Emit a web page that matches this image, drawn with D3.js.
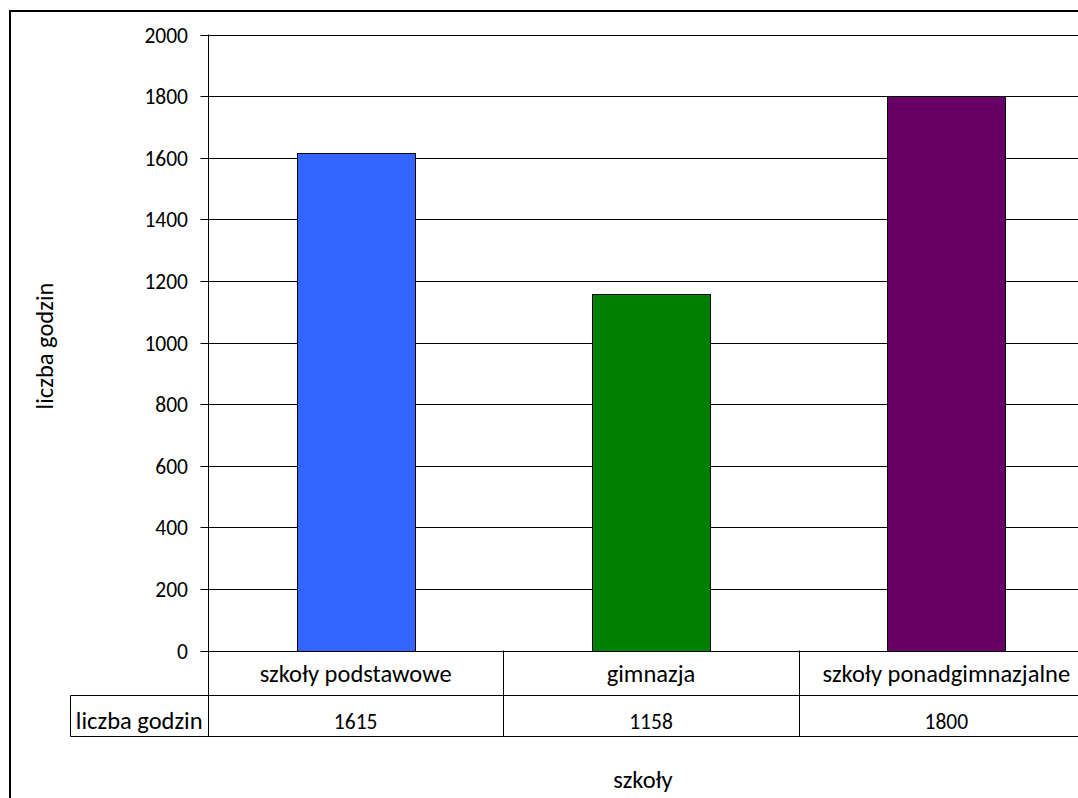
<!DOCTYPE html>
<html><head><meta charset="utf-8">
<script src="https://cdn.jsdelivr.net/npm/d3@7"></script>
<style>body{margin:0;background:#fff}svg{display:block}text{font-family:Carlito,Lato,"Liberation Sans",sans-serif;fill:#000}</style>
</head><body>
<script>
const categories = ["szkoły podstawowe", "gimnazja", "szkoły ponadgimnazjalne"];
const values = [1615, 1158, 1800];
const colors = ["#3366FF", "#008000", "#660066"];
const yTicks = [0, 200, 400, 600, 800, 1000, 1200, 1400, 1600, 1800, 2000];
const seriesName = "liczba godzin";
const yTitle = "liczba godzin";
const xTitle = "szkoły";

(function () {
const W = 1078, H = 798;
const svg = d3.select("body").append("svg").attr("width", W).attr("height", H);
const fsW = 24.5, fsD = 21.5;
const ff = "Carlito,Lato,'Liberation Sans',sans-serif";

svg.append("rect").attr("x", 10).attr("y", 11).attr("width", 1200).attr("height", 1000)
  .attr("fill", "none").attr("stroke", "#000").attr("stroke-width", 2);

const left = 208, plotRight = 1094, plotTop = 34.5, base = 650.5;
const y = d3.scaleLinear().domain([0, 2000]).range([base, plotTop]);
const x = d3.scaleBand().domain(categories).range([left, plotRight]).paddingInner(0).paddingOuter(0);

// gridlines
svg.append("g").selectAll("line").data(yTicks).join("line")
  .attr("x1", left).attr("x2", W).attr("y1", d => Math.round(y(d)) + 0.5).attr("y2", d => Math.round(y(d)) + 0.5)
  .attr("stroke", "#000").attr("stroke-width", 1);

// y axis
const ya = svg.append("g").attr("transform", `translate(${left + 0.5},0.5)`)
  .call(d3.axisLeft(y).tickValues(yTicks).tickSize(8).tickPadding(12.5).tickFormat(d3.format("d")));
ya.select(".domain").remove();
ya.selectAll(".tick line").attr("stroke", "#000");
ya.selectAll(".tick text").attr("font-size", fsD).style("font-family", ff)
  .attr("dy", null).attr("y", 7);
ya.selectAll(".tick").attr("transform", d => `translate(0,${Math.round(y(d))})`);
svg.append("line").attr("x1", left + 0.5).attr("x2", left + 0.5).attr("y1", plotTop).attr("y2", 736)
  .attr("stroke", "#000");

// bars
const bw = x.bandwidth() * 0.4;
svg.append("g").selectAll("rect").data(categories).join("rect")
  .attr("x", (d) => Math.round(x(d) + x.bandwidth() * 0.3) + 0.5)
  .attr("y", (d, i) => Math.round(y(values[i])) + 0.5)
  .attr("width", Math.round(bw))
  .attr("height", (d, i) => Math.round(y(0)) - Math.round(y(values[i])))
  .attr("fill", (d, i) => colors[i]).attr("stroke", "#000").attr("stroke-width", 1);

// data table
const r1 = 695.5, r2 = 736.5, tl = 70.5;
const tg = svg.append("g").attr("stroke", "#000").attr("stroke-width", 1);
tg.append("line").attr("x1", tl).attr("x2", W).attr("y1", r1).attr("y2", r1);
tg.append("line").attr("x1", tl).attr("x2", W).attr("y1", r2).attr("y2", r2);
tg.append("line").attr("x1", tl).attr("x2", tl).attr("y1", r1).attr("y2", r2);
tg.selectAll(".div").data(categories.slice(1)).join("line")
  .attr("x1", d => Math.round(x(d)) + 0.5).attr("x2", d => Math.round(x(d)) + 0.5)
  .attr("y1", base).attr("y2", r2);

svg.append("g").selectAll("text").data(categories).join("text")
  .attr("x", d => x(d) + x.bandwidth() / 2).attr("y", 681.5)
  .attr("text-anchor", "middle").attr("font-size", fsW).text(d => d);
svg.append("g").selectAll("text").data(values).join("text")
  .attr("x", (d, i) => x(categories[i]) + x.bandwidth() / 2).attr("y", 729)
  .attr("text-anchor", "middle").attr("font-size", fsD).text(d => d);
svg.append("text").attr("x", (tl + left) / 2).attr("y", 729)
  .attr("text-anchor", "middle").attr("font-size", fsW).text(seriesName);

// axis titles
svg.append("text").attr("transform", `translate(53,346) rotate(-90)`)
  .attr("text-anchor", "middle").attr("font-size", fsW).text(yTitle);
svg.append("text").attr("x", 643).attr("y", 788)
  .attr("text-anchor", "middle").attr("font-size", fsW).text(xTitle);
})();
</script>
</body></html>
